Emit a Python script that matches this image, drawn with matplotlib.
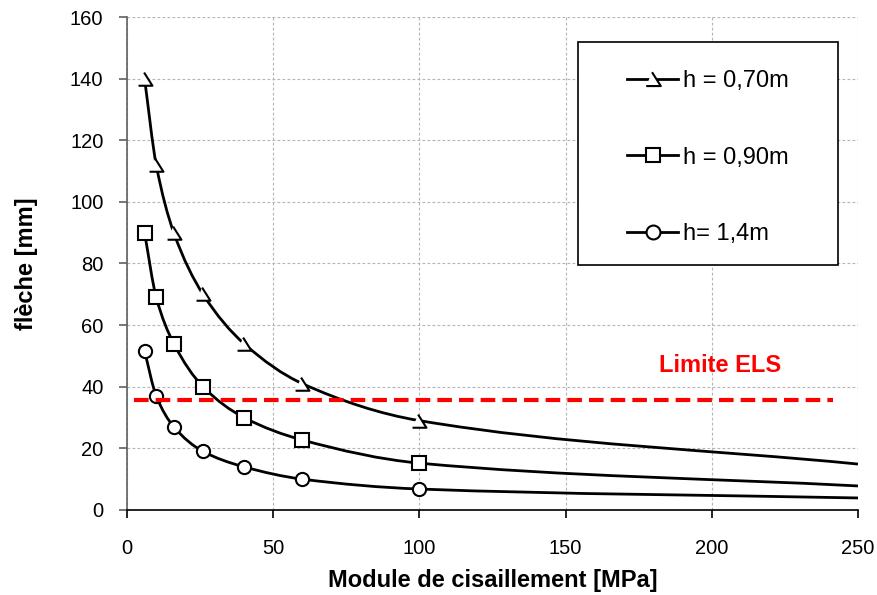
import matplotlib
matplotlib.use("Agg")
from matplotlib import pyplot as plt
from matplotlib.path import Path
from matplotlib.patches import PathPatch, Rectangle
from matplotlib.lines import Line2D

plt.rcParams['font.family'] = ['Liberation Sans', 'DejaVu Sans']

# module de cisaillement [MPa]
g = [6, 10, 16, 26, 40, 60, 100, 250]
fleche_070 = [140, 112, 90, 70, 54, 41, 29, 14.9]
fleche_090 = [90, 69, 54, 40, 30, 22.7, 15.2, 7.8]
fleche_140 = [51.6, 37, 27, 19, 14, 10, 6.8, 3.9]
labels = ['h = 0,70m', 'h = 0,90m', 'h= 1,4m']
limite_els = 35.7
limite_x = [2.4, 241.5]

# half-arrow marker like the excel one
demi_fleche = Path([(-0.1, 0.5), (0.5, -0.45), (-0.5, -0.45)],
                   [Path.MOVETO, Path.LINETO, Path.LINETO])


def pentes(x, y):
    # pchip-like slopes so the smoothed line stays monotone
    n = len(x)
    h = [x[k + 1] - x[k] for k in range(n - 1)]
    d = [(y[k + 1] - y[k]) / h[k] for k in range(n - 1)]
    m = [d[0]] + [0.0] * (n - 2) + [d[-1]]
    for k in range(1, n - 1):
        if d[k - 1] * d[k] > 0:
            w1 = 2 * h[k] + h[k - 1]
            w2 = h[k] + 2 * h[k - 1]
            m[k] = (w1 + w2) / (w1 / d[k - 1] + w2 / d[k])
    return m


def courbe_lisse(x, y):
    # excel "smoothed line": bezier segments through the data points
    m = pentes(x, y)
    verts = [(x[0], y[0])]
    codes = [Path.MOVETO]
    for k in range(len(x) - 1):
        h = (x[k + 1] - x[k]) / 3
        verts += [(x[k] + h, y[k] + m[k] * h),
                  (x[k + 1] - h, y[k + 1] - m[k + 1] * h),
                  (x[k + 1], y[k + 1])]
        codes += [Path.CURVE4] * 3
    return Path(verts, codes)


fig = plt.figure(figsize=(8.77, 5.95), dpi=100)
ax = fig.add_axes([0.1448, 0.1429, 0.8335, 0.8285])

handles = []
for serie, mark, lab in zip([fleche_070, fleche_090, fleche_140],
                            [demi_fleche, 's', 'o'], labels):
    ax.add_patch(PathPatch(courbe_lisse(g, serie), facecolor='none',
                           edgecolor='black', lw=2, zorder=3))
    ms = 10 if mark is demi_fleche else 9.5
    ax.plot(g[:7], serie[:7], ls='none', marker=mark, markersize=ms,
            markerfacecolor='white', markeredgecolor='black',
            markeredgewidth=1.5, zorder=4)
    handles.append(Line2D([], [], color='black', lw=2, marker=mark, markersize=ms + 0.5,
                          markerfacecolor='white', markeredgecolor='black',
                          markeredgewidth=1.5, label=lab))

ax.plot(limite_x, [limite_els, limite_els], color='red', lw=3,
        ls=(0, (3.5, 1.7)), zorder=5)
ax.text(203, 47, 'Limite ELS', color='red', fontsize=17, fontweight='bold',
        ha='center', va='center')

ax.set_xlim(0, 250)
ax.set_ylim(0, 160)
ax.set_xticks(range(0, 251, 50))
ax.set_yticks(range(0, 161, 20))
ax.tick_params(labelsize=14.5, direction='out', length=6, width=1.2)
ax.tick_params(axis='y', pad=11, color='#606060')
ax.tick_params(axis='x', pad=15, color='black')
ax.grid(True, color='#b4b4b4', ls=(0, (2.5, 2)), lw=0.8)
ax.set_axisbelow(True)
for s in ['top', 'right']:
    ax.spines[s].set_visible(False)
ax.spines['left'].set_color('#606060')
ax.spines['left'].set_linewidth(1.2)
ax.spines['bottom'].set_color('black')
ax.spines['bottom'].set_linewidth(1.2)

ax.set_xlabel('Module de cisaillement [MPa]', fontsize=17, fontweight='bold', labelpad=8)
ax.set_ylabel('flèche [mm]', fontsize=17, fontweight='bold', labelpad=23)

# legend box
ax.add_patch(Rectangle((0.617, 0.497), 0.356, 0.452, transform=ax.transAxes,
                       facecolor='white', edgecolor='black', lw=1.2, zorder=6))
leg = ax.legend(handles=handles, loc='center', bbox_to_anchor=(0.795, 0.715),
                fontsize=17, frameon=False, handlelength=2.15,
                labelspacing=2.3, handletextpad=0.22, borderaxespad=0)
leg.set_zorder(7)

fig.savefig('out.png', dpi=100)
